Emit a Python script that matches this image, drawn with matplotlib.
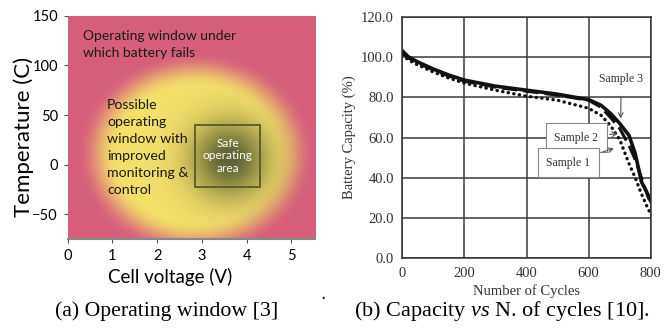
import numpy as np
import matplotlib
matplotlib.use("Agg")
import matplotlib.pyplot as plt
from matplotlib.colors import to_rgb
from matplotlib.patches import Rectangle

plt.rcParams["mathtext.fontset"] = "custom"
plt.rcParams["mathtext.it"] = "Liberation Serif:italic"
plt.rcParams["mathtext.rm"] = "Liberation Serif"

# --- (a) operating window: colours and regions
pink = "#D65F7C"
yellow = "#F5E06A"
olive = "#5B6232"
safe_box = (2.85, -22, 1.45, 62)   # V0, T0, width, height
volt_ticks = [0, 1, 2, 3, 4, 5]
temp_ticks = [-50, 0, 50, 100, 150]

# --- (b) capacity vs cycles
cyc3 = [0, 20, 50, 100, 150, 200, 300, 400, 500, 600, 640, 670, 700, 730, 750, 770, 790, 800]
cap3 = [103, 100, 97.5, 94, 91, 88.5, 85.5, 83.5, 81.5, 78.8, 76, 72, 67, 61, 52, 38, 32, 28.5]
cyc2 = [0, 20, 50, 100, 150, 200, 300, 400, 500, 600, 640, 670, 700, 730, 750, 770, 790, 800]
cap2 = [102, 99.5, 97, 93.5, 90.5, 88, 85, 83, 81, 78.5, 75, 70, 64.5, 56, 49, 40, 31, 27.5]
cyc1 = [0, 20, 50, 100, 150, 200, 300, 400, 500, 600, 640, 670, 700, 730, 750, 770, 790, 800]
cap1 = [101, 98.5, 96, 92.5, 89.5, 87, 83.5, 80.5, 78.5, 74.5, 71, 66, 59, 47, 40, 32, 25, 22]

sans = "Lato"
serif = "Liberation Serif"

fig = plt.figure(figsize=(6.68, 3.29), dpi=100)

# ---------------- left panel
ax1 = fig.add_axes([0.1013, 0.2726, 0.3703, 0.6794])
V, T = np.meshgrid(np.linspace(0, 5.53, 400), np.linspace(-75, 150, 400))
r = np.sqrt(((V - 2.85) / 2.5) ** 2 + ((T - 10) / 97) ** 2)
w = np.clip((r - 0.7) / 0.36, 0, 1)
w = w * w * (3 - 2 * w)
g = np.exp(-(((V - 3.6) / 0.95) ** 2 + ((T - 5) / 42) ** 2) * 1.2)
img = (np.array(to_rgb(yellow)) * (1 - w[..., None]) + np.array(to_rgb(pink)) * w[..., None])
img = img * (1 - g[..., None]) + np.array(to_rgb(olive)) * g[..., None]
ax1.imshow(img, extent=[0, 5.53, -75, 150], origin="lower", aspect="auto")
ax1.add_patch(Rectangle(safe_box[:2], safe_box[2], safe_box[3], fill=False,
                        edgecolor="#4A5528", lw=1.2))
ax1.text(safe_box[0] + safe_box[2] / 2, safe_box[1] + safe_box[3] / 2, "Safe\noperating\narea",
         color="white", ha="center", va="center", fontsize=8.5, family=sans, linespacing=1.2)
ax1.text(0.35, 136, "Operating window under\nwhich battery fails", fontsize=10, family=sans,
         va="top", color="#1a1a1a", linespacing=1.5)
ax1.text(0.88, 66, "Possible\noperating\nwindow with\nimproved\nmonitoring &\ncontrol",
         fontsize=10.2, family=sans, va="top", color="#1a1a1a", linespacing=1.5)
ax1.set_xlim(0, 5.53)
ax1.set_ylim(-75, 150)
ax1.set_xticks(volt_ticks)
ax1.set_yticks(temp_ticks)
for s in ["top", "right", "left"]:
    ax1.spines[s].set_visible(False)
ax1.spines["bottom"].set_color("#888888")
ax1.spines["bottom"].set_linewidth(1.5)
ax1.tick_params(labelsize=10.5, color="#555555", length=3, pad=4)
for lab in ax1.get_xticklabels() + ax1.get_yticklabels():
    lab.set_family(sans)
ax1.set_xlabel("Cell voltage (V)", fontsize=13.5, family=sans)
ax1.set_ylabel("Temperature (C)", fontsize=16, family=sans)
ax1.xaxis.set_label_coords(0.414, -0.13)
ax1.yaxis.set_label_coords(-0.136, 0.457)

# ---------------- right panel
ax2 = fig.add_axes([0.6023, 0.2149, 0.3719, 0.7343])
ax2.plot(cyc1, cap1, color="#111111", lw=2.4, linestyle=(0, (0.1, 1.6)), dash_capstyle="round")
ax2.plot(cyc2, cap2, color="#111111", lw=2.2, linestyle=(0, (5, 2)))
ax2.plot(cyc3, cap3, color="#111111", lw=2.6)
ax2.set_xlim(0, 800)
ax2.set_ylim(0, 120)
ax2.set_xticks([0, 200, 400, 600, 800])
ax2.set_yticks(np.arange(0, 121, 20))
ax2.set_yticklabels([f"{v:.1f}" for v in np.arange(0, 121, 20)])
ax2.grid(True, color="#3a3a3a", lw=1.1)
for s in ax2.spines.values():
    s.set_color("#333333")
    s.set_linewidth(1.1)
ax2.tick_params(length=0, labelsize=10.5, colors="#333333", pad=6)
for lab in ax2.get_xticklabels() + ax2.get_yticklabels():
    lab.set_family(serif)
ax2.set_xlabel("Number of Cycles", fontsize=10.5, family=serif, color="#333333", labelpad=3)
ax2.set_ylabel("Battery Capacity (%)", fontsize=10.5, family=serif, color="#333333")

bbox = dict(boxstyle="square,pad=0.7", fc="white", ec="#888888", lw=0.8)
ax2.annotate("Sample 3", xy=(703, 68), xytext=(705, 89), fontsize=8.5, family=serif,
             ha="center", va="center", color="#333333",
             arrowprops=dict(arrowstyle="->", color="#555555", lw=0.8, shrinkA=6))
ax2.annotate("Sample 2", xy=(703, 62), xytext=(560, 60), fontsize=8.5, family=serif,
             ha="center", va="center", color="#333333", bbox=bbox,
             arrowprops=dict(arrowstyle="->", color="#555555", lw=0.8))
ax2.annotate("Sample 1", xy=(690, 55), xytext=(535, 47.5), fontsize=8.5, family=serif,
             ha="center", va="center", color="#333333", bbox=bbox,
             arrowprops=dict(arrowstyle="->", color="#555555", lw=0.8))

# captions
fig.text(0.249, 0.054, "(a) Operating window [3]", ha="center", va="center",
         fontsize=15.7, family=serif)
fig.text(0.752, 0.054, "(b) Capacity $\\it{vs}$ N. of cycles [10].", ha="center", va="center",
         fontsize=16, family=serif)
fig.text(0.484, 0.105, ".", fontsize=12, ha="center", va="center")

fig.savefig("out.png", dpi=100)
